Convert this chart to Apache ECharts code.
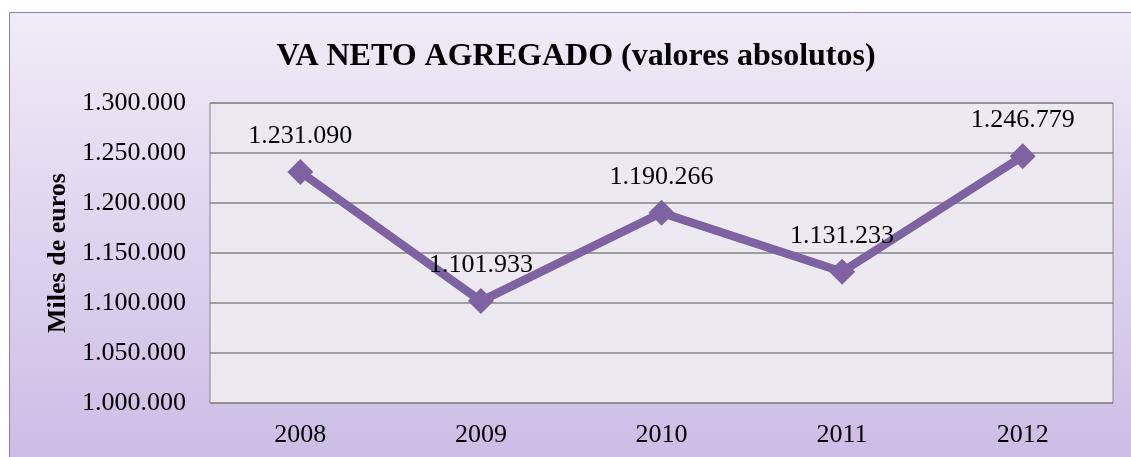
<!DOCTYPE html>
<html>
<head>
<meta charset="utf-8">
<script src="https://cdn.jsdelivr.net/npm/echarts@6/dist/echarts.min.js"></script>
<style>
  html, body { margin: 0; padding: 0; background: #fff; }
  #main { width: 1131px; height: 457px; }
</style>
</head>
<body>
<div id="main"></div>
<script>
const years = ['2008', '2009', '2010', '2011', '2012']
const vaNeto = [1231090, 1101933, 1190266, 1131233, 1246779]
const yTicks = [1000000, 1050000, 1100000, 1150000, 1200000, 1250000, 1300000]

// 1.231.090 style
function miles(v) {
    return String(v).replace(/\B(?=(\d{3})+(?!\d))/g, '.')
}

let myChart = echarts.init(document.getElementById('main'))

let serif = '"Liberation Serif", "Times New Roman", serif'

let option = {
    backgroundColor: '#ffffff',
    graphic: [{
        type: 'rect',
        z: -10,
        shape: { x: 9.5, y: 12.5, width: 1140, height: 460 },
        style: {
            fill: new echarts.graphic.LinearGradient(0, 0, 0, 1, [
                { offset: 0, color: '#F0ECF7' },
                { offset: 1, color: '#CBBBE5' }
            ]),
            stroke: '#8E7AB5',
            lineWidth: 1
        }
    }],
    title: {
        text: 'VA NETO AGREGADO (valores absolutos)',
        left: 571,
        top: 36,
        textAlign: 'center',
        textStyle: {
            fontFamily: serif,
            fontSize: 32,
            fontWeight: 'bold',
            color: '#000'
        }
    },
    grid: {
        left: 210,
        top: 103,
        right: 18,
        bottom: 54,
        show: true,
        backgroundColor: '#ECEAF0',
        borderColor: '#868686',
        borderWidth: 1
    },
    xAxis: {
        type: 'category',
        data: years,
        boundaryGap: true,
        axisLine: { show: false },
        axisTick: { show: false },
        axisLabel: {
            margin: 19,
            fontFamily: serif,
            fontSize: 26,
            color: '#000'
        }
    },
    yAxis: {
        type: 'value',
        min: yTicks[0],
        max: yTicks[yTicks.length - 1],
        interval: 50000,
        name: 'Miles de euros',
        nameLocation: 'middle',
        nameGap: 135,
        nameTextStyle: {
            fontFamily: serif,
            fontSize: 26,
            fontWeight: 'bold',
            color: '#000'
        },
        axisLine: { show: false },
        axisTick: { show: false },
        splitLine: { lineStyle: { color: '#868686', width: 1.5 } },
        axisLabel: {
            margin: 24,
            fontFamily: serif,
            fontSize: 26,
            color: '#000',
            formatter: miles
        }
    },
    series: [{
        name: 'VA neto',
        type: 'line',
        data: vaNeto,
        symbol: 'diamond',
        symbolSize: 26,
        lineStyle: { color: '#7F62A1', width: 8.5 },
        itemStyle: { color: '#7F62A1' },
        label: {
            show: true,
            position: 'top',
            distance: 10,
            fontFamily: serif,
            fontSize: 26,
            color: '#000',
            formatter: p => miles(p.value)
        },
        animation: false
    }]
}

myChart.setOption(option)
</script>
</body>
</html>
